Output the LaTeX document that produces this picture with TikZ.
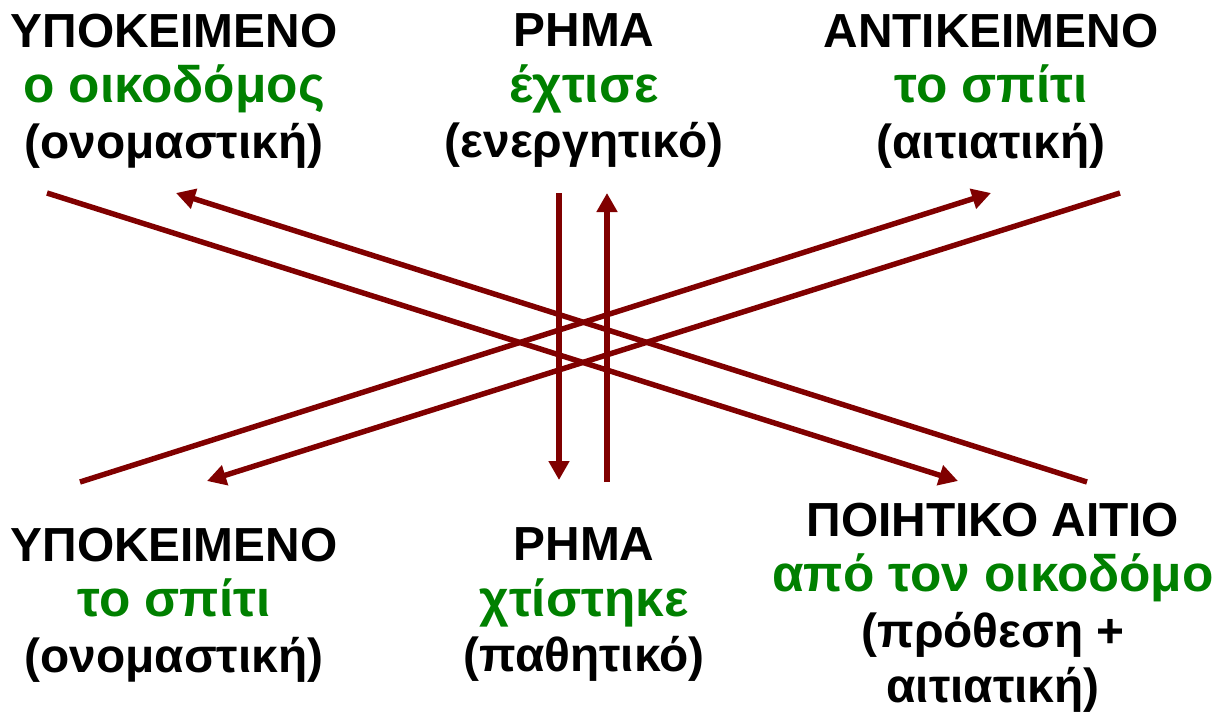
\documentclass[tikz,border=0pt]{standalone}
\usepackage{fontspec}
\setmainfont{Liberation Sans}
\usepackage{xcolor}
\usetikzlibrary{arrows.meta}
\definecolor{arrowred}{RGB}{128,0,0}
\definecolor{termgreen}{RGB}{0,128,0}
\tikzstyle{block}=[align=center, inner sep=0pt, anchor=north, font=\fontsize{13.6pt}{15.8pt}\selectfont\bfseries]
\tikzstyle{link}=[draw=arrowred, line width=1.55pt, -{Triangle[length=0.19cm,width=0.2cm]}]
\newcommand{\term}[1]{{\fontsize{14.6pt}{15.8pt}\selectfont\textcolor{termgreen}{#1}}}

\begin{document}
\begin{tikzpicture}[x=0.01cm, y=-0.01cm]
\useasboundingbox (0,0) rectangle (1223,711);
%
	\node[block] (subjA) at (174,13) {ΥΠΟΚΕΙΜΕΝΟ\\ \term{ο οικοδόμος}\\ (ονομαστική)};
	\node[block] (verbA) at (584,13) {ΡΗΜΑ\\ \term{έχτισε}\\ (ενεργητικό)};
	\node[block] (objA) at (991,13) {ΑΝΤΙΚΕΙΜΕΝΟ\\ \term{το σπίτι}\\ (αιτιατική)};
	\node[block] (subjP) at (174,527) {ΥΠΟΚΕΙΜΕΝΟ\\ \term{το σπίτι}\\ (ονομαστική)};
	\node[block] (verbP) at (584,527) {ΡΗΜΑ\\ \term{χτίστηκε}\\ (παθητικό)};
	\node[block] (agentP) at (993,502) {ΠΟΙΗΤΙΚΟ ΑΙΤΙΟ\\ \term{από τον οικοδόμο}\\ (πρόθεση +\\ αιτιατική)};
%
	\coordinate (sA1) at (47,193);
	\coordinate (sA2) at (176,193);
	\coordinate (vA1) at (559,193);
	\coordinate (vA2) at (607,193);
	\coordinate (oA1) at (991,193);
	\coordinate (oA2) at (1120,193);
	\coordinate (sP1) at (80,482);
	\coordinate (sP2) at (207,481);
	\coordinate (vP1) at (559,480);
	\coordinate (vP2) at (607,482);
	\coordinate (aP1) at (958,481);
	\coordinate (aP2) at (1087,482);
%
	\draw[link] (sA1) -- (aP1);
	\draw[link] (aP2) -- (sA2);
	\draw[link] (sP1) -- (oA1);
	\draw[link] (oA2) -- (sP2);
	\draw[link] (vA1) -- (vP1);
	\draw[link] (vP2) -- (vA2);
\end{tikzpicture}
\end{document}
